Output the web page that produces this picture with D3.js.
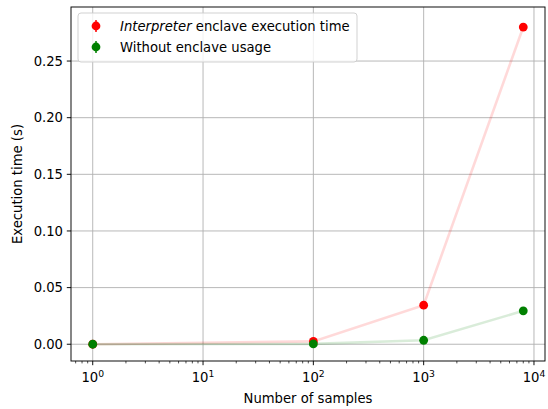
<!DOCTYPE html>
<html><head><meta charset="utf-8">
<script src="https://cdn.jsdelivr.net/npm/d3@7"></script>
<style>body{margin:0;background:#fff}svg{font-family:"DejaVu Sans",sans-serif}</style>
</head><body><svg id="c" width="548" height="409"></svg>
<script>
const samples = [1, 100, 1000, 8000];
const interpreterTime = [0.0, 0.0025, 0.0345, 0.280];
const withoutEnclave = [0.0, 0.0003, 0.0035, 0.0295];
const yTicks = [0.00, 0.05, 0.10, 0.15, 0.20, 0.25];
const xTicksExp = [0, 1, 2, 3, 4];
const seriesNames = ["Interpreter", " enclave execution time", "Without enclave usage"];

const svg = d3.select("#c");
const L = 71, R = 545, T = 7, B = 361;
const x = d3.scaleLog().domain([Math.pow(10, -0.197), Math.pow(10, 4.1)]).range([L, R]);
const y = d3.scaleLinear().domain([-0.0148, 0.2977]).range([B, T]);
const fs = 13.2;

// grid
const g = svg.append("g");
xTicksExp.forEach(e => {
  g.append("line").attr("x1", x(10**e)).attr("x2", x(10**e)).attr("y1", T).attr("y2", B)
    .attr("stroke", "#b0b0b0").attr("stroke-width", 0.9);
});
yTicks.forEach(v => {
  g.append("line").attr("x1", L).attr("x2", R).attr("y1", y(v)).attr("y2", y(v))
    .attr("stroke", "#b0b0b0").attr("stroke-width", 0.9);
});

// lines
const line = d3.line().x((d, i) => x(samples[i])).y(d => y(d));
svg.append("path").datum(interpreterTime).attr("d", line).attr("fill", "none")
  .attr("stroke", "red").attr("stroke-opacity", 0.15).attr("stroke-width", 2.6);
svg.append("path").datum(withoutEnclave).attr("d", line).attr("fill", "none")
  .attr("stroke", "green").attr("stroke-opacity", 0.15).attr("stroke-width", 2.6);

// points
svg.append("g").selectAll("circle").data(interpreterTime).join("circle")
  .attr("cx", (d, i) => x(samples[i])).attr("cy", d => y(d)).attr("r", 4.4).attr("fill", "red");
svg.append("g").selectAll("circle").data(withoutEnclave).join("circle")
  .attr("cx", (d, i) => x(samples[i])).attr("cy", d => y(d)).attr("r", 4.4).attr("fill", "green");

// axes frame
svg.append("rect").attr("x", L).attr("y", T).attr("width", R - L).attr("height", B - T)
  .attr("fill", "none").attr("stroke", "#000").attr("stroke-width", 0.95);

// x ticks
const ax = svg.append("g");
const [d0, d1] = x.domain();
for (let e = -1; e <= 4; e++) {
  for (let m = 1; m <= 9; m++) {
    const v = m * 10 ** e;
    if (v < d0 || v > d1) continue;
    const len = m === 1 ? 4.2 : 2.4;
    ax.append("line").attr("x1", x(v)).attr("x2", x(v)).attr("y1", B).attr("y2", B + len)
      .attr("stroke", "#000").attr("stroke-width", m === 1 ? 0.95 : 0.7);
  }
}
xTicksExp.forEach(e => {
  const t = ax.append("text").attr("x", x(10 ** e)).attr("y", B + 21).attr("text-anchor", "middle")
    .attr("font-size", fs).attr("fill", "#000");
  t.append("tspan").text("10");
  t.append("tspan").attr("dy", -5.5).attr("font-size", fs * 0.7).text(e);
});
// y ticks
yTicks.forEach(v => {
  ax.append("line").attr("x1", L - 4.2).attr("x2", L).attr("y1", y(v)).attr("y2", y(v))
    .attr("stroke", "#000").attr("stroke-width", 0.95);
  ax.append("text").attr("x", L - 8).attr("y", y(v)).attr("dy", "0.36em").attr("text-anchor", "end")
    .attr("font-size", fs).attr("fill", "#000").text(v.toFixed(2));
});

// axis labels
svg.append("text").attr("x", (L + R) / 2).attr("y", 403).attr("text-anchor", "middle")
  .attr("font-size", fs).text("Number of samples");
svg.append("text").attr("transform", `translate(22,${(T + B) / 2}) rotate(-90)`).attr("text-anchor", "middle")
  .attr("font-size", fs).text("Execution time (s)");

// legend
const lg = svg.append("g");
lg.append("rect").attr("x", 78).attr("y", 13).attr("width", 279).attr("height", 49).attr("rx", 3)
  .attr("fill", "#fff").attr("fill-opacity", 0.8).attr("stroke", "#cccccc").attr("stroke-width", 0.9);
const items = [{c: "red", y: 26}, {c: "green", y: 47}];
items.forEach(it => {
  lg.append("line").attr("x1", 96).attr("x2", 96).attr("y1", it.y - 6).attr("y2", it.y + 6)
    .attr("stroke", it.c).attr("stroke-width", 1.5);
  lg.append("circle").attr("cx", 96).attr("cy", it.y).attr("r", 4.4).attr("fill", it.c);
});
const t1 = lg.append("text").attr("x", 120).attr("y", 26).attr("dy", "0.36em").attr("font-size", fs);
t1.append("tspan").attr("font-style", "italic").text(seriesNames[0]);
t1.append("tspan").text(seriesNames[1]);
lg.append("text").attr("x", 120).attr("y", 47).attr("dy", "0.36em").attr("font-size", fs).text(seriesNames[2]);
</script></body></html>
